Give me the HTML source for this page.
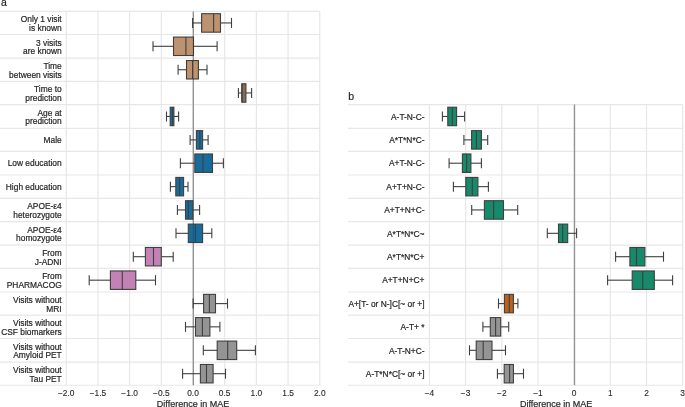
<!DOCTYPE html><html><head><meta charset="utf-8"><style>
html,body{margin:0;padding:0;background:#fff;width:685px;height:407px;overflow:hidden}
svg{display:block;font-family:"Liberation Sans", sans-serif;will-change:transform}
.e{stroke:#3f3f3f;stroke-width:1.1;fill-opacity:1}
line.e{fill:none}
.g{stroke:#e7e7e7;stroke-width:1.2;fill:none}
.zu{stroke:#a6a6a6;stroke-width:1.3;fill:none}
.z{stroke:#000;stroke-opacity:0.12;stroke-width:1.3;fill:none}
text{fill:#262626;stroke:#262626;stroke-width:0.2}
text.tk{stroke-width:0.1}
</style></head><body>
<svg width="685" height="407" viewBox="0 0 685 407">
<line x1="0" y1="11.40" x2="319.75" y2="11.40" class="g"/>
<line x1="0" y1="34.50" x2="319.75" y2="34.50" class="g"/>
<line x1="0" y1="58.10" x2="319.75" y2="58.10" class="g"/>
<line x1="0" y1="81.40" x2="319.75" y2="81.40" class="g"/>
<line x1="0" y1="104.55" x2="319.75" y2="104.55" class="g"/>
<line x1="0" y1="128.35" x2="319.75" y2="128.35" class="g"/>
<line x1="0" y1="151.40" x2="319.75" y2="151.40" class="g"/>
<line x1="0" y1="175.00" x2="319.75" y2="175.00" class="g"/>
<line x1="0" y1="198.30" x2="319.75" y2="198.30" class="g"/>
<line x1="0" y1="221.60" x2="319.75" y2="221.60" class="g"/>
<line x1="0" y1="245.05" x2="319.75" y2="245.05" class="g"/>
<line x1="0" y1="268.35" x2="319.75" y2="268.35" class="g"/>
<line x1="0" y1="292.00" x2="319.75" y2="292.00" class="g"/>
<line x1="0" y1="315.20" x2="319.75" y2="315.20" class="g"/>
<line x1="0" y1="338.50" x2="319.75" y2="338.50" class="g"/>
<line x1="0" y1="362.15" x2="319.75" y2="362.15" class="g"/>
<line x1="0" y1="385.25" x2="319.75" y2="385.25" class="g"/>
<line x1="66.25" y1="11.40" x2="66.25" y2="385.25" class="g"/>
<line x1="97.94" y1="11.40" x2="97.94" y2="385.25" class="g"/>
<line x1="129.62" y1="11.40" x2="129.62" y2="385.25" class="g"/>
<line x1="161.31" y1="11.40" x2="161.31" y2="385.25" class="g"/>
<line x1="193.00" y1="11.40" x2="193.00" y2="385.25" class="g"/>
<line x1="224.69" y1="11.40" x2="224.69" y2="385.25" class="g"/>
<line x1="256.38" y1="11.40" x2="256.38" y2="385.25" class="g"/>
<line x1="288.06" y1="11.40" x2="288.06" y2="385.25" class="g"/>
<line x1="319.75" y1="11.40" x2="319.75" y2="385.25" class="g"/>
<line x1="193.35" y1="11.40" x2="193.35" y2="385.25" class="zu"/>
<line x1="192.60" y1="22.95" x2="201.60" y2="22.95" class="e"/>
<line x1="220.50" y1="22.95" x2="231.50" y2="22.95" class="e"/>
<line x1="192.60" y1="17.95" x2="192.60" y2="27.95" class="e"/>
<line x1="231.50" y1="17.95" x2="231.50" y2="27.95" class="e"/>
<rect x="201.60" y="13.72" width="18.90" height="18.46" fill="#bd926e" class="e"/>
<line x1="213.60" y1="13.72" x2="213.60" y2="32.18" class="e"/>
<text x="61.7" y="22.17" font-size="8.4" text-anchor="end">Only 1 visit</text>
<text x="61.7" y="30.97" font-size="8.4" text-anchor="end">is known</text>
<line x1="153.00" y1="46.30" x2="173.50" y2="46.30" class="e"/>
<line x1="193.50" y1="46.30" x2="217.10" y2="46.30" class="e"/>
<line x1="153.00" y1="41.30" x2="153.00" y2="51.30" class="e"/>
<line x1="217.10" y1="41.30" x2="217.10" y2="51.30" class="e"/>
<rect x="173.50" y="37.07" width="20.00" height="18.46" fill="#bd926e" class="e"/>
<line x1="185.90" y1="37.07" x2="185.90" y2="55.53" class="e"/>
<text x="61.7" y="45.52" font-size="8.4" text-anchor="end">3 visits</text>
<text x="61.7" y="54.32" font-size="8.4" text-anchor="end">are known</text>
<line x1="178.10" y1="69.75" x2="186.50" y2="69.75" class="e"/>
<line x1="198.40" y1="69.75" x2="207.00" y2="69.75" class="e"/>
<line x1="178.10" y1="64.75" x2="178.10" y2="74.75" class="e"/>
<line x1="207.00" y1="64.75" x2="207.00" y2="74.75" class="e"/>
<rect x="186.50" y="60.52" width="11.90" height="18.46" fill="#bd926e" class="e"/>
<line x1="192.60" y1="60.52" x2="192.60" y2="78.98" class="e"/>
<text x="61.7" y="68.97" font-size="8.4" text-anchor="end">Time</text>
<text x="61.7" y="77.77" font-size="8.4" text-anchor="end">between visits</text>
<line x1="238.40" y1="92.97" x2="241.90" y2="92.97" class="e"/>
<line x1="245.90" y1="92.97" x2="251.60" y2="92.97" class="e"/>
<line x1="238.40" y1="87.97" x2="238.40" y2="97.97" class="e"/>
<line x1="251.60" y1="87.97" x2="251.60" y2="97.97" class="e"/>
<rect x="241.90" y="83.75" width="4.00" height="18.46" fill="#8b6c56" class="e"/>
<line x1="241.90" y1="83.75" x2="241.90" y2="102.20" class="e"/>
<text x="61.7" y="92.19" font-size="8.4" text-anchor="end">Time to</text>
<text x="61.7" y="100.99" font-size="8.4" text-anchor="end">prediction</text>
<line x1="166.50" y1="116.45" x2="170.20" y2="116.45" class="e"/>
<line x1="173.90" y1="116.45" x2="178.60" y2="116.45" class="e"/>
<line x1="166.50" y1="111.45" x2="166.50" y2="121.45" class="e"/>
<line x1="178.60" y1="111.45" x2="178.60" y2="121.45" class="e"/>
<rect x="170.20" y="107.22" width="3.70" height="18.46" fill="#176c9c" class="e"/>
<line x1="172.50" y1="107.22" x2="172.50" y2="125.68" class="e"/>
<text x="61.7" y="115.67" font-size="8.4" text-anchor="end">Age at</text>
<text x="61.7" y="124.47" font-size="8.4" text-anchor="end">prediction</text>
<line x1="190.10" y1="139.88" x2="196.40" y2="139.88" class="e"/>
<line x1="202.60" y1="139.88" x2="208.10" y2="139.88" class="e"/>
<line x1="190.10" y1="134.88" x2="190.10" y2="144.88" class="e"/>
<line x1="208.10" y1="134.88" x2="208.10" y2="144.88" class="e"/>
<rect x="196.40" y="130.65" width="6.20" height="18.46" fill="#176c9c" class="e"/>
<line x1="199.90" y1="130.65" x2="199.90" y2="149.10" class="e"/>
<text x="61.7" y="143.09" font-size="8.4" text-anchor="end">Male</text>
<line x1="180.40" y1="163.20" x2="194.80" y2="163.20" class="e"/>
<line x1="212.50" y1="163.20" x2="223.40" y2="163.20" class="e"/>
<line x1="180.40" y1="158.20" x2="180.40" y2="168.20" class="e"/>
<line x1="223.40" y1="158.20" x2="223.40" y2="168.20" class="e"/>
<rect x="194.80" y="153.97" width="17.70" height="18.46" fill="#176c9c" class="e"/>
<line x1="203.00" y1="153.97" x2="203.00" y2="172.43" class="e"/>
<text x="61.7" y="166.42" font-size="8.4" text-anchor="end">Low education</text>
<line x1="170.40" y1="186.65" x2="175.80" y2="186.65" class="e"/>
<line x1="183.60" y1="186.65" x2="188.00" y2="186.65" class="e"/>
<line x1="170.40" y1="181.65" x2="170.40" y2="191.65" class="e"/>
<line x1="188.00" y1="181.65" x2="188.00" y2="191.65" class="e"/>
<rect x="175.80" y="177.42" width="7.80" height="18.46" fill="#176c9c" class="e"/>
<line x1="179.60" y1="177.42" x2="179.60" y2="195.88" class="e"/>
<text x="61.7" y="189.87" font-size="8.4" text-anchor="end">High education</text>
<line x1="177.40" y1="209.95" x2="185.50" y2="209.95" class="e"/>
<line x1="192.80" y1="209.95" x2="199.60" y2="209.95" class="e"/>
<line x1="177.40" y1="204.95" x2="177.40" y2="214.95" class="e"/>
<line x1="199.60" y1="204.95" x2="199.60" y2="214.95" class="e"/>
<rect x="185.50" y="200.72" width="7.30" height="18.46" fill="#176c9c" class="e"/>
<line x1="188.40" y1="200.72" x2="188.40" y2="219.18" class="e"/>
<text x="61.7" y="209.17" font-size="8.4" text-anchor="end">APOE-ε4</text>
<text x="61.7" y="217.97" font-size="8.4" text-anchor="end">heterozygote</text>
<line x1="176.00" y1="233.32" x2="188.30" y2="233.32" class="e"/>
<line x1="202.60" y1="233.32" x2="211.80" y2="233.32" class="e"/>
<line x1="176.00" y1="228.32" x2="176.00" y2="238.32" class="e"/>
<line x1="211.80" y1="228.32" x2="211.80" y2="238.32" class="e"/>
<rect x="188.30" y="224.10" width="14.30" height="18.46" fill="#176c9c" class="e"/>
<line x1="195.40" y1="224.10" x2="195.40" y2="242.55" class="e"/>
<text x="61.7" y="232.54" font-size="8.4" text-anchor="end">APOE-ε4</text>
<text x="61.7" y="241.34" font-size="8.4" text-anchor="end">homozygote</text>
<line x1="133.30" y1="256.70" x2="145.40" y2="256.70" class="e"/>
<line x1="161.30" y1="256.70" x2="173.20" y2="256.70" class="e"/>
<line x1="133.30" y1="251.70" x2="133.30" y2="261.70" class="e"/>
<line x1="173.20" y1="251.70" x2="173.20" y2="261.70" class="e"/>
<rect x="145.40" y="247.47" width="15.90" height="18.46" fill="#c282b5" class="e"/>
<line x1="153.50" y1="247.47" x2="153.50" y2="265.93" class="e"/>
<text x="61.7" y="255.92" font-size="8.4" text-anchor="end">From</text>
<text x="61.7" y="264.72" font-size="8.4" text-anchor="end">J-ADNI</text>
<line x1="89.20" y1="280.18" x2="110.40" y2="280.18" class="e"/>
<line x1="135.80" y1="280.18" x2="155.50" y2="280.18" class="e"/>
<line x1="89.20" y1="275.18" x2="89.20" y2="285.18" class="e"/>
<line x1="155.50" y1="275.18" x2="155.50" y2="285.18" class="e"/>
<rect x="110.40" y="270.95" width="25.40" height="18.46" fill="#c282b5" class="e"/>
<line x1="122.30" y1="270.95" x2="122.30" y2="289.40" class="e"/>
<text x="61.7" y="279.40" font-size="8.4" text-anchor="end">From</text>
<text x="61.7" y="288.20" font-size="8.4" text-anchor="end">PHARMACOG</text>
<line x1="193.10" y1="303.60" x2="203.60" y2="303.60" class="e"/>
<line x1="215.50" y1="303.60" x2="227.50" y2="303.60" class="e"/>
<line x1="193.10" y1="298.60" x2="193.10" y2="308.60" class="e"/>
<line x1="227.50" y1="298.60" x2="227.50" y2="308.60" class="e"/>
<rect x="203.60" y="294.37" width="11.90" height="18.46" fill="#949494" class="e"/>
<line x1="209.40" y1="294.37" x2="209.40" y2="312.83" class="e"/>
<text x="61.7" y="302.82" font-size="8.4" text-anchor="end">Visits without</text>
<text x="61.7" y="311.62" font-size="8.4" text-anchor="end">MRI</text>
<line x1="185.50" y1="326.85" x2="195.50" y2="326.85" class="e"/>
<line x1="209.90" y1="326.85" x2="219.90" y2="326.85" class="e"/>
<line x1="185.50" y1="321.85" x2="185.50" y2="331.85" class="e"/>
<line x1="219.90" y1="321.85" x2="219.90" y2="331.85" class="e"/>
<rect x="195.50" y="317.62" width="14.40" height="18.46" fill="#949494" class="e"/>
<line x1="202.40" y1="317.62" x2="202.40" y2="336.08" class="e"/>
<text x="61.7" y="326.07" font-size="8.4" text-anchor="end">Visits without</text>
<text x="61.7" y="334.87" font-size="8.4" text-anchor="end">CSF biomarkers</text>
<line x1="203.30" y1="350.32" x2="217.20" y2="350.32" class="e"/>
<line x1="236.70" y1="350.32" x2="255.40" y2="350.32" class="e"/>
<line x1="203.30" y1="345.32" x2="203.30" y2="355.32" class="e"/>
<line x1="255.40" y1="345.32" x2="255.40" y2="355.32" class="e"/>
<rect x="217.20" y="341.10" width="19.50" height="18.46" fill="#949494" class="e"/>
<line x1="227.70" y1="341.10" x2="227.70" y2="359.55" class="e"/>
<text x="61.7" y="349.55" font-size="8.4" text-anchor="end">Visits without</text>
<text x="61.7" y="358.35" font-size="8.4" text-anchor="end">Amyloid PET</text>
<line x1="182.60" y1="373.70" x2="200.40" y2="373.70" class="e"/>
<line x1="213.10" y1="373.70" x2="225.50" y2="373.70" class="e"/>
<line x1="182.60" y1="368.70" x2="182.60" y2="378.70" class="e"/>
<line x1="225.50" y1="368.70" x2="225.50" y2="378.70" class="e"/>
<rect x="200.40" y="364.47" width="12.70" height="18.46" fill="#949494" class="e"/>
<line x1="206.50" y1="364.47" x2="206.50" y2="382.93" class="e"/>
<text x="61.7" y="372.92" font-size="8.4" text-anchor="end">Visits without</text>
<text x="61.7" y="381.72" font-size="8.4" text-anchor="end">Tau PET</text>
<line x1="193.35" y1="11.40" x2="193.35" y2="385.25" class="z"/>
<text x="66.25" y="396.35" font-size="8.4" text-anchor="middle" class="tk">−2.0</text>
<text x="97.94" y="396.35" font-size="8.4" text-anchor="middle" class="tk">−1.5</text>
<text x="129.62" y="396.35" font-size="8.4" text-anchor="middle" class="tk">−1.0</text>
<text x="161.31" y="396.35" font-size="8.4" text-anchor="middle" class="tk">−0.5</text>
<text x="193.00" y="396.35" font-size="8.4" text-anchor="middle" class="tk">0.0</text>
<text x="224.69" y="396.35" font-size="8.4" text-anchor="middle" class="tk">0.5</text>
<text x="256.38" y="396.35" font-size="8.4" text-anchor="middle" class="tk">1.0</text>
<text x="288.06" y="396.35" font-size="8.4" text-anchor="middle" class="tk">1.5</text>
<text x="319.75" y="396.35" font-size="8.4" text-anchor="middle" class="tk">2.0</text>
<text x="193.00" y="406.6" font-size="9.0" text-anchor="middle">Difference in MAE</text>
<text x="1.1" y="6.35" font-size="10.5">a</text>
<line x1="348" y1="104.55" x2="682.70" y2="104.55" class="g"/>
<line x1="348" y1="128.35" x2="682.70" y2="128.35" class="g"/>
<line x1="348" y1="151.40" x2="682.70" y2="151.40" class="g"/>
<line x1="348" y1="175.00" x2="682.70" y2="175.00" class="g"/>
<line x1="348" y1="198.30" x2="682.70" y2="198.30" class="g"/>
<line x1="348" y1="221.60" x2="682.70" y2="221.60" class="g"/>
<line x1="348" y1="245.05" x2="682.70" y2="245.05" class="g"/>
<line x1="348" y1="268.35" x2="682.70" y2="268.35" class="g"/>
<line x1="348" y1="292.00" x2="682.70" y2="292.00" class="g"/>
<line x1="348" y1="315.20" x2="682.70" y2="315.20" class="g"/>
<line x1="348" y1="338.50" x2="682.70" y2="338.50" class="g"/>
<line x1="348" y1="362.15" x2="682.70" y2="362.15" class="g"/>
<line x1="348" y1="385.25" x2="682.70" y2="385.25" class="g"/>
<line x1="429.45" y1="104.55" x2="429.45" y2="385.25" class="g"/>
<line x1="465.63" y1="104.55" x2="465.63" y2="385.25" class="g"/>
<line x1="501.81" y1="104.55" x2="501.81" y2="385.25" class="g"/>
<line x1="537.99" y1="104.55" x2="537.99" y2="385.25" class="g"/>
<line x1="574.16" y1="104.55" x2="574.16" y2="385.25" class="g"/>
<line x1="610.34" y1="104.55" x2="610.34" y2="385.25" class="g"/>
<line x1="646.52" y1="104.55" x2="646.52" y2="385.25" class="g"/>
<line x1="682.70" y1="104.55" x2="682.70" y2="385.25" class="g"/>
<line x1="574.50" y1="104.55" x2="574.50" y2="385.25" class="zu"/>
<line x1="442.40" y1="116.45" x2="447.80" y2="116.45" class="e"/>
<line x1="456.60" y1="116.45" x2="464.60" y2="116.45" class="e"/>
<line x1="442.40" y1="111.45" x2="442.40" y2="121.45" class="e"/>
<line x1="464.60" y1="111.45" x2="464.60" y2="121.45" class="e"/>
<rect x="447.80" y="107.21" width="8.80" height="18.48" fill="#168a6a" class="e"/>
<line x1="452.30" y1="107.21" x2="452.30" y2="125.69" class="e"/>
<text x="424.5" y="119.67" font-size="8.4" text-anchor="end">A-T-N-C-</text>
<line x1="463.90" y1="139.88" x2="471.60" y2="139.88" class="e"/>
<line x1="481.40" y1="139.88" x2="487.70" y2="139.88" class="e"/>
<line x1="463.90" y1="134.88" x2="463.90" y2="144.88" class="e"/>
<line x1="487.70" y1="134.88" x2="487.70" y2="144.88" class="e"/>
<rect x="471.60" y="130.64" width="9.80" height="18.48" fill="#168a6a" class="e"/>
<line x1="476.40" y1="130.64" x2="476.40" y2="149.11" class="e"/>
<text x="424.5" y="143.09" font-size="8.4" text-anchor="end">A*T*N*C-</text>
<line x1="449.10" y1="163.20" x2="462.40" y2="163.20" class="e"/>
<line x1="470.90" y1="163.20" x2="481.40" y2="163.20" class="e"/>
<line x1="449.10" y1="158.20" x2="449.10" y2="168.20" class="e"/>
<line x1="481.40" y1="158.20" x2="481.40" y2="168.20" class="e"/>
<rect x="462.40" y="153.96" width="8.50" height="18.48" fill="#168a6a" class="e"/>
<line x1="466.60" y1="153.96" x2="466.60" y2="172.44" class="e"/>
<text x="424.5" y="166.42" font-size="8.4" text-anchor="end">A+T-N-C-</text>
<line x1="453.40" y1="186.65" x2="465.80" y2="186.65" class="e"/>
<line x1="477.90" y1="186.65" x2="488.40" y2="186.65" class="e"/>
<line x1="453.40" y1="181.65" x2="453.40" y2="191.65" class="e"/>
<line x1="488.40" y1="181.65" x2="488.40" y2="191.65" class="e"/>
<rect x="465.80" y="177.41" width="12.10" height="18.48" fill="#168a6a" class="e"/>
<line x1="472.30" y1="177.41" x2="472.30" y2="195.89" class="e"/>
<text x="424.5" y="189.87" font-size="8.4" text-anchor="end">A+T+N-C-</text>
<line x1="471.70" y1="209.95" x2="484.40" y2="209.95" class="e"/>
<line x1="503.50" y1="209.95" x2="517.70" y2="209.95" class="e"/>
<line x1="471.70" y1="204.95" x2="471.70" y2="214.95" class="e"/>
<line x1="517.70" y1="204.95" x2="517.70" y2="214.95" class="e"/>
<rect x="484.40" y="200.71" width="19.10" height="18.48" fill="#168a6a" class="e"/>
<line x1="493.60" y1="200.71" x2="493.60" y2="219.19" class="e"/>
<text x="424.5" y="213.17" font-size="8.4" text-anchor="end">A+T+N+C-</text>
<line x1="547.30" y1="233.32" x2="558.50" y2="233.32" class="e"/>
<line x1="567.70" y1="233.32" x2="576.60" y2="233.32" class="e"/>
<line x1="547.30" y1="228.32" x2="547.30" y2="238.32" class="e"/>
<line x1="576.60" y1="228.32" x2="576.60" y2="238.32" class="e"/>
<rect x="558.50" y="224.09" width="9.20" height="18.48" fill="#168a6a" class="e"/>
<line x1="562.60" y1="224.09" x2="562.60" y2="242.56" class="e"/>
<text x="424.5" y="236.54" font-size="8.4" text-anchor="end">A*T*N*C~</text>
<line x1="615.60" y1="256.70" x2="629.90" y2="256.70" class="e"/>
<line x1="644.90" y1="256.70" x2="663.50" y2="256.70" class="e"/>
<line x1="615.60" y1="251.70" x2="615.60" y2="261.70" class="e"/>
<line x1="663.50" y1="251.70" x2="663.50" y2="261.70" class="e"/>
<rect x="629.90" y="247.46" width="15.00" height="18.48" fill="#168a6a" class="e"/>
<line x1="636.50" y1="247.46" x2="636.50" y2="265.94" class="e"/>
<text x="424.5" y="259.92" font-size="8.4" text-anchor="end">A*T*N*C+</text>
<line x1="607.60" y1="280.18" x2="632.20" y2="280.18" class="e"/>
<line x1="654.30" y1="280.18" x2="672.60" y2="280.18" class="e"/>
<line x1="607.60" y1="275.18" x2="607.60" y2="285.18" class="e"/>
<line x1="672.60" y1="275.18" x2="672.60" y2="285.18" class="e"/>
<rect x="632.20" y="270.94" width="22.10" height="18.48" fill="#168a6a" class="e"/>
<line x1="642.70" y1="270.94" x2="642.70" y2="289.41" class="e"/>
<text x="424.5" y="283.40" font-size="8.4" text-anchor="end">A+T+N+C+</text>
<line x1="498.50" y1="303.60" x2="504.40" y2="303.60" class="e"/>
<line x1="513.40" y1="303.60" x2="517.90" y2="303.60" class="e"/>
<line x1="498.50" y1="298.60" x2="498.50" y2="308.60" class="e"/>
<line x1="517.90" y1="298.60" x2="517.90" y2="308.60" class="e"/>
<rect x="504.40" y="294.36" width="9.00" height="18.48" fill="#ba611b" class="e"/>
<line x1="509.30" y1="294.36" x2="509.30" y2="312.84" class="e"/>
<text x="424.5" y="306.82" font-size="8.4" text-anchor="end">A+[T- or N-]C[~ or +]</text>
<line x1="482.90" y1="326.85" x2="490.30" y2="326.85" class="e"/>
<line x1="500.70" y1="326.85" x2="508.70" y2="326.85" class="e"/>
<line x1="482.90" y1="321.85" x2="482.90" y2="331.85" class="e"/>
<line x1="508.70" y1="321.85" x2="508.70" y2="331.85" class="e"/>
<rect x="490.30" y="317.61" width="10.40" height="18.48" fill="#949494" class="e"/>
<line x1="495.60" y1="317.61" x2="495.60" y2="336.09" class="e"/>
<text x="424.5" y="330.07" font-size="8.4" text-anchor="end">A-T+ *</text>
<line x1="469.50" y1="350.32" x2="476.20" y2="350.32" class="e"/>
<line x1="492.00" y1="350.32" x2="505.50" y2="350.32" class="e"/>
<line x1="469.50" y1="345.32" x2="469.50" y2="355.32" class="e"/>
<line x1="505.50" y1="345.32" x2="505.50" y2="355.32" class="e"/>
<rect x="476.20" y="341.09" width="15.80" height="18.48" fill="#949494" class="e"/>
<line x1="483.20" y1="341.09" x2="483.20" y2="359.56" class="e"/>
<text x="424.5" y="353.55" font-size="8.4" text-anchor="end">A-T-N+C-</text>
<line x1="497.40" y1="373.70" x2="504.20" y2="373.70" class="e"/>
<line x1="513.40" y1="373.70" x2="523.50" y2="373.70" class="e"/>
<line x1="497.40" y1="368.70" x2="497.40" y2="378.70" class="e"/>
<line x1="523.50" y1="368.70" x2="523.50" y2="378.70" class="e"/>
<rect x="504.20" y="364.46" width="9.20" height="18.48" fill="#949494" class="e"/>
<line x1="509.60" y1="364.46" x2="509.60" y2="382.94" class="e"/>
<text x="424.5" y="376.92" font-size="8.4" text-anchor="end">A-T*N*C[~ or +]</text>
<line x1="574.50" y1="104.55" x2="574.50" y2="385.25" class="z"/>
<text x="429.45" y="396.35" font-size="8.4" text-anchor="middle" class="tk">−4</text>
<text x="465.63" y="396.35" font-size="8.4" text-anchor="middle" class="tk">−3</text>
<text x="501.81" y="396.35" font-size="8.4" text-anchor="middle" class="tk">−2</text>
<text x="537.99" y="396.35" font-size="8.4" text-anchor="middle" class="tk">−1</text>
<text x="574.16" y="396.35" font-size="8.4" text-anchor="middle" class="tk">0</text>
<text x="610.34" y="396.35" font-size="8.4" text-anchor="middle" class="tk">1</text>
<text x="646.52" y="396.35" font-size="8.4" text-anchor="middle" class="tk">2</text>
<text x="682.70" y="396.35" font-size="8.4" text-anchor="middle" class="tk">3</text>
<text x="556.08" y="406.6" font-size="9.0" text-anchor="middle">Difference in MAE</text>
<text x="348.2" y="100" font-size="10.5">b</text>
</svg></body></html>
